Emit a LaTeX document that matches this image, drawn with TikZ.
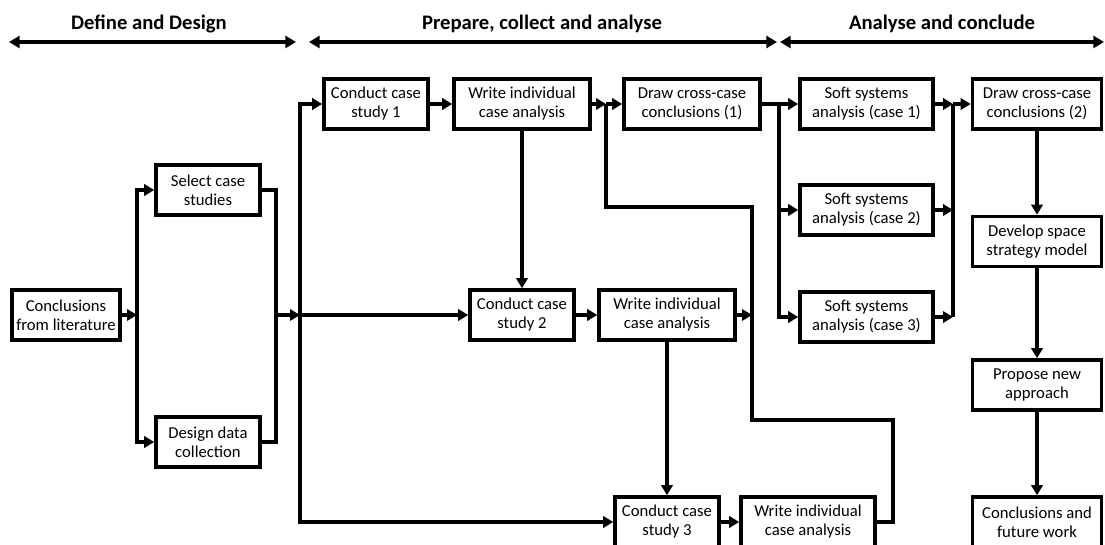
\documentclass[tikz,border=0pt]{standalone}
\usepackage{fontspec}
\setmainfont{Carlito}
\usetikzlibrary{arrows.meta}
\newcommand\boxfont{\fontsize{12.5}{14.3}\selectfont}
\newcommand\headfont{\fontsize{15.5}{18}\selectfont\bfseries}
\begin{document}
\begin{tikzpicture}[
  x=0.75pt, y=-0.75pt,
  blk/.style={draw, line width=2.7pt, align=center, inner sep=0pt,
              font=\boxfont, minimum height=50*0.75pt},
  wd/.style={minimum width=#1*0.75pt},
  wire/.style={line width=2.5pt, line join=miter},
  arr/.style={wire, -{Triangle[length=7.5pt,width=8.5pt]}},
  harr/.style={line width=2.3pt, {Triangle[length=8pt,width=9pt]}-{Triangle[length=8pt,width=9pt]}},
  head/.style={font=\headfont, anchor=base, inner sep=0pt}
]
\useasboundingbox (0,0) rectangle (1105,545);

% phase headings
\coordinate (h1l) at (9,42);   \coordinate (h1r) at (296,42);
\coordinate (h2l) at (309,42); \coordinate (h2r) at (777,42);
\coordinate (h3l) at (780,42); \coordinate (h3r) at (1104,42);
\draw[harr] (h1l) -- (h1r);
\draw[harr] (h2l) -- (h2r);
\draw[harr] (h3l) -- (h3r);
\node[head] (t1) at (149,30) {Define and Design};
\node[head] (t2) at (542,30) {Prepare, collect and analyse};
\node[head] (t3) at (942,30) {Analyse and conclude};

% process boxes
\node[blk, wd=108] (CFL)   at (66,315)    {Conclusions\\from literature};
\node[blk, wd=104] (SCS)   at (208,190)   {Select case\\studies};
\node[blk, wd=104] (DDC)   at (208,442)   {Design data\\collection};
\node[blk, wd=104] (CCS1)  at (376,104)   {Conduct case\\study 1};
\node[blk, wd=136] (WICA1) at (522,104)   {Write individual\\case analysis};
\node[blk, wd=136] (DCC1)  at (692,104)   {Draw cross-case\\conclusions (1)};
\node[blk, wd=104] (CCS2)  at (522,315)   {Conduct case\\study 2};
\node[blk, wd=136] (WICA2) at (667,315)   {Write individual\\case analysis};
\node[blk, wd=104] (CCS3)  at (667,522)   {Conduct case\\study 3};
\node[blk, wd=134] (WICA3) at (808,522)   {Write individual\\case analysis};
\node[blk, wd=133] (SSA1)  at (866.5,104) {Soft systems\\analysis (case 1)};
\node[blk, wd=133] (SSA2)  at (866.5,210) {Soft systems\\analysis (case 2)};
\node[blk, wd=133] (SSA3)  at (866.5,317) {Soft systems\\analysis (case 3)};
\node[blk, wd=129] (DCC2)  at (1037,104)  {Draw cross-case\\conclusions (2)};
\node[blk, wd=129] (DSSM)  at (1037,241.5){Develop space\\strategy model};
\node[blk, wd=129] (PNA)   at (1037,385)  {Propose new\\approach};
\node[blk, wd=129] (CFW)   at (1037,522)  {Conclusions and\\future work};

% junction points of the buses
\coordinate (b1) at (137,315);
\coordinate (j1) at (276,315);
\coordinate (b2) at (300,315);
\coordinate (b3) at (606,104);
\coordinate (r1) at (893,420);
\coordinate (r2) at (752,207);
\coordinate (b4) at (779,104);
\coordinate (b5) at (953,104);

% define and design
\draw[arr] (CFL.east) -- (b1);
\draw[arr] (b1) |- (SCS.west);
\draw[arr] (b1) |- (DDC.west);
\draw[wire] (SCS.east) -| (j1) |- (DDC.east);
\draw[arr] (j1) -- (b2);

% case studies
\draw[arr] (b2) |- (CCS1.west);
\draw[arr] (b2) -- (CCS2.west);
\draw[arr] (b2) |- (CCS3.west);
\draw[arr] (CCS1) -- (WICA1);
\draw[arr] (WICA1.south) -- (CCS2.north);
\draw[arr] (CCS2) -- (WICA2);
\draw[arr] (WICA2.south) -- (CCS3.north);
\draw[arr] (CCS3) -- (WICA3);

% gathering the three case analyses
\draw[arr] (WICA1.east) -- (b3);
\draw[wire] (WICA3.east) -| (r1) -| (r2) -| (b3);
\draw[arr] (WICA2.east) -- (WICA2.east -| r2);
\draw[arr] (b3) -- (DCC1.west);

% soft systems analyses
\draw[arr] (DCC1.east) -- (SSA1.west);
\draw[arr] (b4) |- (SSA2.west);
\draw[arr] (b4) |- (SSA3.west);
\draw[arr] (SSA1.east) -- (b5);
\draw[arr] (SSA2.east) -- (SSA2.east -| b5);
\draw[arr] (SSA3.east) -- (SSA3.east -| b5);
\draw[wire] (b5) -- (b5 |- SSA3.east);
\draw[arr] (b5) -- (DCC2.west);

% conclusions
\draw[arr] (DCC2) -- (DSSM);
\draw[arr] (DSSM) -- (PNA);
\draw[arr] (PNA) -- (CFW);
\end{tikzpicture}
\end{document}
